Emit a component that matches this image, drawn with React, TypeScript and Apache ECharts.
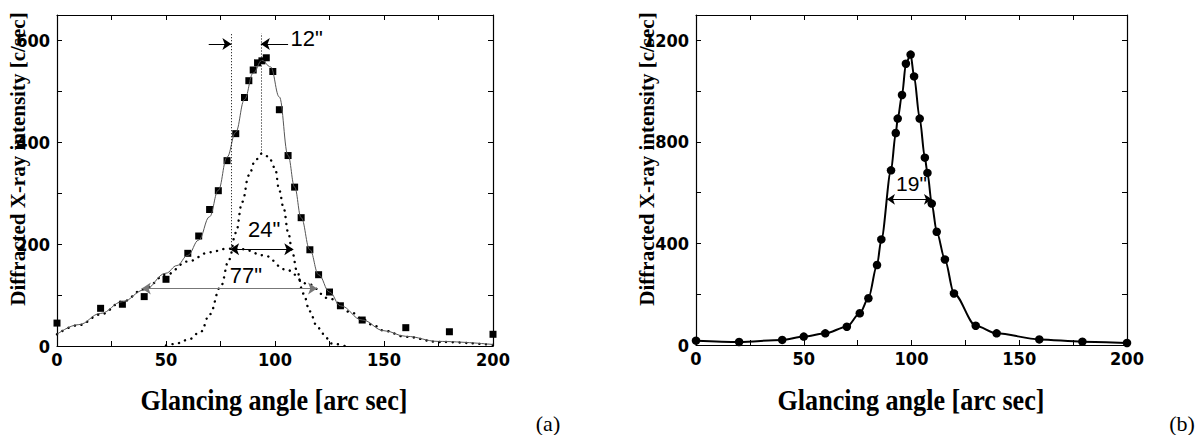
import React, { useEffect, useRef } from "react";
import * as echarts from "echarts";

// ---------- data ----------
const xTickLabels = [0, 50, 100, 150, 200];
const leftYTickLabels = [0, 200, 400, 600];
const rightYTickLabels = [0, 400, 800, 1200];

// (a) measured points
const sqX = [0, 20, 30, 40, 50, 60, 65, 70, 74, 78, 82, 86, 88, 90, 92, 94, 96, 99, 102, 106, 109, 112, 116, 120, 125, 130, 140, 160, 180, 200];
const sqY = [45, 74, 82, 97, 131, 182, 216, 268, 305, 364, 417, 488, 521, 542, 556, 560, 566, 539, 464, 374, 312, 252, 189, 140, 106, 79, 51, 36, 28, 23];

// (a) total fit (thin solid)
const fitX = [0, 10, 20, 30, 40, 50, 55, 60, 65, 70, 74, 78, 82, 86, 90, 94, 98, 102, 106, 109, 112, 116, 120, 125, 130, 140, 150, 160, 175, 200];
const fitY = [23, 42, 64, 87, 110, 143, 158, 178, 208, 254, 306, 371, 420, 484, 536, 561, 548, 489, 374, 312, 252, 189, 140, 106, 79, 51, 30, 19, 9, 3];

// (a) broad component (dotted)
const broadX = [0, 10, 20, 30, 40, 50, 60, 70, 78, 85, 95, 105, 115, 125, 135, 140, 145, 150, 160, 175, 200];
const broadY = [23, 41, 62, 87, 112, 140, 166, 184, 191, 190, 178, 150, 122, 93, 66, 53, 41, 30, 18, 8, 2];

// (a) narrow component (dotted)
const narrowX = [50, 54, 60, 66, 70, 75, 79, 82, 85, 88, 91, 94, 97, 100, 102, 104, 106, 108, 110, 113, 116, 119, 122, 126, 132];
const narrowY = [1, 4, 12, 28, 62, 116, 170, 222, 283, 335, 365, 378, 372, 350, 305, 270, 224, 183, 148, 103, 68, 41, 24, 5, 0];

// (b) measured points
const rX = [0, 20, 40, 50, 60, 70, 76, 80, 84, 86, 90.5, 92.7, 93.6, 95.6, 97.4, 99.6, 101.2, 103.8, 106.2, 107.4, 109.4, 111.7, 115.5, 119.7, 129.8, 139.5, 159.3, 179.3, 200];
const rY = [17, 12, 20, 33, 46, 72, 125, 184, 315, 416, 688, 835, 892, 985, 1108, 1144, 1058, 892, 738, 678, 557, 446, 337, 203, 76, 46, 22, 13, 8];

// annotations (data coordinates)
const fwhm12 = { left: 80, right: 93.5, y: 593, top: 614, leftStart: 69.6, rightStart: 106, leftBottom: 192, rightBottom: 378 };
const fwhm24 = { x1: 79.4, x2: 108.4, y: 190 };
const fwhm77 = { x1: 38.9, x2: 119.3, y: 113 };
const fwhm19 = { x1: 88.6, x2: 109.5, y: 574 };
const leftLabels = [
  { name: '12"', coord: [114.5, 603] },
  { name: '24"', coord: [95, 228] },
  { name: '77"', coord: [86.7, 139] },
];
const rightLabels = [{ name: '19"', coord: [100, 637] }];

const pairs = (xs: number[], ys: number[]) => xs.map((x, i) => [x, ys[i]]);

const NUM_FONT = "'Liberation Sans Narrow', 'Arial Narrow', 'DejaVu Sans Condensed', 'Liberation Sans', Arial, sans-serif";
const SERIF = "'Liberation Serif', 'Times New Roman', serif";
const SANS = "'Liberation Sans', Arial, sans-serif";

function makeX(gridIndex: number) {
  const base: any = {
    type: "value",
    gridIndex,
    min: 0,
    max: 200,
    interval: 25,
    axisLine: { show: true, onZero: false, lineStyle: { color: "#000", width: 1.2 } },
    axisTick: { show: true, inside: true, length: 5, lineStyle: { color: "#000", width: 1 } },
    splitLine: { show: false },
  };
  return [
    {
      ...base,
      position: "bottom",
      axisLabel: {
        show: true,
        margin: 4,
        color: "#000",
        fontFamily: NUM_FONT,
        fontWeight: "bold",
        fontSize: 18,
        formatter: (v: number) => (xTickLabels.includes(v) ? String(v) : ""),
      },
    },
    { ...base, position: "top", axisLabel: { show: false } },
  ];
}

function makeY(gridIndex: number, max: number, interval: number, labels: number[]) {
  const base: any = {
    type: "value",
    gridIndex,
    min: 0,
    max,
    interval,
    axisLine: { show: true, onZero: false, lineStyle: { color: "#000", width: 1.2 } },
    axisTick: { show: true, inside: true, length: 5, lineStyle: { color: "#000", width: 1 } },
    splitLine: { show: false },
  };
  return [
    {
      ...base,
      position: "left",
      axisLabel: {
        show: true,
        margin: 7,
        color: "#000",
        fontFamily: NUM_FONT,
        fontWeight: "bold",
        fontSize: 18,
        showMaxLabel: false,
        formatter: (v: number) => (labels.includes(v) ? String(v) : ""),
      },
    },
    { ...base, position: "right", axisLabel: { show: false } },
  ];
}

const arrowLine = (x1: number, x2: number, y: number, s1: string, s2: string, color = "#000") => [
  { coord: [x1, y], symbol: s1, lineStyle: { color, width: 1, type: "solid" } },
  { coord: [x2, y], symbol: s2, lineStyle: { color, width: 1, type: "solid" } },
];

const vDotted = (x: number, y1: number, y2: number) => [
  { coord: [x, y1], symbol: "none", lineStyle: { color: "#000", width: 1, type: [1, 2] } },
  { coord: [x, y2], symbol: "none", lineStyle: { color: "#000", width: 1, type: [1, 2] } },
];

const textPoints = (items: { name: string; coord: number[] }[], size: number) => ({
  silent: true,
  symbol: "rect",
  symbolSize: 0,
  itemStyle: { color: "rgba(0,0,0,0)" },
  label: {
    show: true,
    position: "inside",
    formatter: "{b}",
    color: "#000",
    fontFamily: SANS,
    fontSize: size,
  },
  data: items.map((d) => ({ name: d.name, coord: d.coord })),
});

export default function App() {
  const ref = useRef<HTMLDivElement>(null);

  useEffect(() => {
    document.body.style.margin = "0";
    if (!ref.current) return;
    const chart = echarts.init(ref.current, null, { renderer: "svg" });

    const dottedStyle = { color: "#000", width: 2.4, type: [0.1, 6.5], cap: "round" };

    const option: any = {
      animation: false,
      backgroundColor: "#fff",
      grid: [
        { left: 57, top: 15, width: 436, height: 331, outerBoundsMode: "none", containLabel: false },
        { left: 696, top: 15, width: 431, height: 330, outerBoundsMode: "none", containLabel: false },
      ],
      xAxis: [...makeX(0), ...makeX(1)],
      yAxis: [...makeY(0, 650, 100, leftYTickLabels), ...makeY(1, 1300, 200, rightYTickLabels)],
      series: [
        {
          type: "line",
          xAxisIndex: 0,
          yAxisIndex: 0,
          data: pairs(broadX, broadY),
          smooth: 0.4,
          smoothMonotone: "x",
          showSymbol: false,
          lineStyle: dottedStyle,
          silent: true,
        },
        {
          type: "line",
          xAxisIndex: 0,
          yAxisIndex: 0,
          data: pairs(narrowX, narrowY),
          smooth: 0.4,
          smoothMonotone: "x",
          showSymbol: false,
          lineStyle: dottedStyle,
          silent: true,
        },
        {
          type: "line",
          xAxisIndex: 0,
          yAxisIndex: 0,
          data: pairs(fitX, fitY),
          smooth: 0.4,
          smoothMonotone: "x",
          showSymbol: false,
          lineStyle: { color: "#555", width: 1 },
          silent: true,
        },
        {
          type: "scatter",
          xAxisIndex: 0,
          yAxisIndex: 0,
          data: pairs(sqX, sqY),
          symbol: "rect",
          symbolSize: 7,
          itemStyle: { color: "#000", opacity: 1 },
          markLine: {
            silent: true,
            symbolSize: 9,
            label: { show: false },
            data: [
              vDotted(fwhm12.left, fwhm12.leftBottom, fwhm12.top),
              vDotted(fwhm12.right, fwhm12.rightBottom, fwhm12.top),
              arrowLine(fwhm12.leftStart, fwhm12.left, fwhm12.y, "none", "arrow"),
              arrowLine(fwhm12.rightStart, fwhm12.right, fwhm12.y, "none", "arrow"),
              arrowLine(fwhm24.x1, fwhm24.x2, fwhm24.y, "arrow", "arrow"),
              arrowLine(fwhm77.x1, fwhm77.x2, fwhm77.y, "arrow", "arrow", "#777"),
            ],
          },
          markPoint: textPoints(leftLabels, 22),
        },
        {
          type: "line",
          xAxisIndex: 2,
          yAxisIndex: 2,
          data: pairs(rX, rY),
          smooth: 0.3,
          smoothMonotone: "x",
          symbol: "circle",
          symbolSize: 8.5,
          showSymbol: true,
          itemStyle: { color: "#000", opacity: 1 },
          lineStyle: { color: "#000", width: 2 },
          markLine: {
            silent: true,
            symbolSize: 8,
            label: { show: false },
            data: [arrowLine(fwhm19.x1, fwhm19.x2, fwhm19.y, "arrow", "arrow")],
          },
          markPoint: textPoints(rightLabels, 21),
        },
      ],
      graphic: [
        {
          type: "text",
          x: 18,
          y: 159,
          rotation: Math.PI / 2,
          style: { text: "Diffracted X-ray intensity [c/sec]", font: `bold 21px ${SERIF}`, fill: "#000", align: "center", verticalAlign: "middle" },
        },
        {
          type: "text",
          x: 647,
          y: 159,
          rotation: Math.PI / 2,
          style: { text: "Diffracted X-ray intensity [c/sec]", font: `bold 21px ${SERIF}`, fill: "#000", align: "center", verticalAlign: "middle" },
        },
        {
          type: "text",
          x: 274,
          y: 400,
          scaleX: 0.9,
          style: { text: "Glancing angle [arc sec]", font: `bold 29px ${SERIF}`, fill: "#000", align: "center", verticalAlign: "middle" },
        },
        {
          type: "text",
          x: 911,
          y: 400,
          scaleX: 0.9,
          style: { text: "Glancing angle [arc sec]", font: `bold 29px ${SERIF}`, fill: "#000", align: "center", verticalAlign: "middle" },
        },
        {
          type: "text",
          x: 548,
          y: 423,
          style: { text: "(a)", font: `22px ${SERIF}`, fill: "#000", align: "center", verticalAlign: "middle" },
        },
        {
          type: "text",
          x: 1182,
          y: 423,
          style: { text: "(b)", font: `22px ${SERIF}`, fill: "#000", align: "center", verticalAlign: "middle" },
        },
      ],
    };

    chart.setOption(option);
    return () => chart.dispose();
  }, []);

  return <div ref={ref} style={{ width: 1197, height: 435 }} />;
}
